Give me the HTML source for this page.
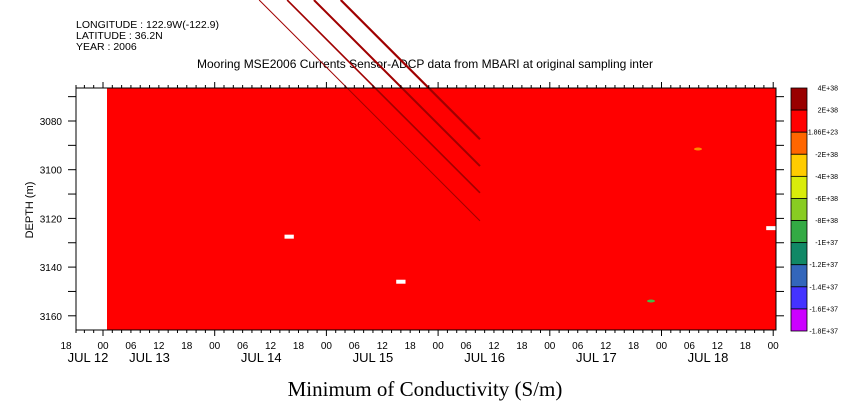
<!DOCTYPE html>
<html><head><meta charset="utf-8"><style>
body{margin:0;background:#fff;width:841px;height:420px;overflow:hidden}
svg{display:block;font-family:"Liberation Sans",sans-serif}
</style></head><body>
<svg id="c" width="841" height="420">
</svg>
<script>
// ---- data ----
const dayLabels=["JUL 12","JUL 13","JUL 14","JUL 15","JUL 16","JUL 17","JUL 18"];
const hourTicks=["00","06","12","18"];
const depthTicks=[3080,3100,3120,3140,3160];
const cbLabels=["4E+38","2E+38","-1.86E+23","-2E+38","-4E+38","-6E+38","-8E+38","-1E+37","-1.2E+37","-1.4E+37","-1.6E+37","-1.8E+37"];
const cbColors=["#990000","#ff0000","#ff6600","#ffcc00","#d9ec0a","#88cc22","#33aa44","#118866","#3366bb","#4433ff","#cc00ff"];
// gaps (white): start hour, end hour, depth (hours since JUL 12 00)
const gapStart=[63,87,166.5];
const gapEnd=[65,89,168.5];
const gapDepth=[3127.5,3146,3124];
// diagonal streaks: end hour, end depth, width
const streakH1=[105,105,105,105];
const streakD1=[3121,3109.5,3098.5,3087.5];
const streakW=[1,1.6,2,2.2];
// ---- axes ----
const X0=76,X1=776,Y0=88,Y1=330;
const dayW=111.7, t0=103-dayW; // hour 0 = JUL 12 00
function xs(h){return t0+h*dayW/24;}
function ys(d){return 121+(d-3080)*2.435;}
const svg=document.getElementById('c');
const NS="http://www.w3.org/2000/svg";
function el(t,a,p){const e=document.createElementNS(NS,t);for(const k in a)e.setAttribute(k,a[k]);(p||svg).appendChild(e);return e;}
function txt(x,y,s,a){const e=el('text',Object.assign({x:x,y:y},a));e.textContent=s;return e;}
let t;
t=txt(76,28,"LONGITUDE : 122.9W(-122.9)",{'font-size':10.5});
t=txt(76,39,"LATITUDE : 36.2N",{'font-size':10.5});
t=txt(76,50,"YEAR : 2006",{'font-size':10.5});
t=txt(425,68,"Mooring MSE2006 Currents Sensor-ADCP data from MBARI  at original sampling inter",{'font-size':12,'text-anchor':'middle'});
let r=el('rect',{x:107,y:Y0,width:X1-107,height:Y1-Y0,fill:'#ff0000'});

for(let i=0;i<gapStart.length;i++){
 const g=el('rect',{x:xs(gapStart[i]),y:ys(gapDepth[i])-2,width:xs(gapEnd[i])-xs(gapStart[i]),height:4,fill:'#fff'});
 
}
el('ellipse',{cx:698,cy:149,rx:4,ry:1.5,fill:'#ff8800'});
el('ellipse',{cx:651,cy:301,rx:4,ry:1.5,fill:'#44bb44'});
for(let i=0;i<streakH1.length;i++){
 const xe=xs(streakH1[i]),ye=ys(streakD1[i]);
 const l=el('line',{x1:xe-ye,y1:0,x2:xe,y2:ye,stroke:'#a00000','stroke-width':streakW[i]});
 
}
el('rect',{x:X0,y:Y0,width:X1-X0,height:Y1-Y0,fill:'none',stroke:'#000','stroke-width':1});
for(let h=18;h<=7*24;h+=2){
 let x=xs(h); if(x<X0-1.5||x>X1+1.5)continue;
 x=Math.max(X0,Math.min(X1,x));
 const major=(h%24===0), len=major?6:3;
 el('line',{x1:x,y1:Y0,x2:x,y2:Y0-len,stroke:'#000'});
 el('line',{x1:x,y1:Y1,x2:x,y2:Y1+len,stroke:'#000'});
 if(h%6===0){const lab=txt(h===18?66:x,349,hourTicks[(h/6)%4],{'font-size':10,'text-anchor':'middle'});}
}
dayLabels.forEach((d,i)=>{
 const x=i===0?88:xs(i*24+10);
 const lab=txt(x,362,d,{'font-size':13,'text-anchor':'middle'});
 
});
for(let d=3070;d<=3160;d+=10){
 const y=ys(d);
 el('line',{x1:X0,y1:y,x2:X0-8,y2:y,stroke:'#000'});
 el('line',{x1:X1,y1:y,x2:X1+8,y2:y,stroke:'#000'});
}
depthTicks.forEach(d=>{
 const lab=txt(62,ys(d)+4,String(d),{'font-size':10,'text-anchor':'end'});
 
});
t=txt(0,0,"DEPTH (m)",{'font-size':11,'text-anchor':'middle',transform:'translate(33,210) rotate(-90)'});

t=txt(425,396,"Minimum of Conductivity (S/m)",{'font-size':21,'text-anchor':'middle','font-family':'Liberation Serif, serif'});

const cbY0=88,cbH=243/cbColors.length;
cbColors.forEach((c,i)=>{
 const b=el('rect',{x:791,y:cbY0+i*cbH,width:16,height:cbH,fill:c,stroke:'#000','stroke-width':0.8});
 
});
cbLabels.forEach((s,i)=>{
 const lab=txt(838,cbY0+i*cbH+2.5,s,{'font-size':7,'text-anchor':'end'});
 
});
</script>
</body></html>
